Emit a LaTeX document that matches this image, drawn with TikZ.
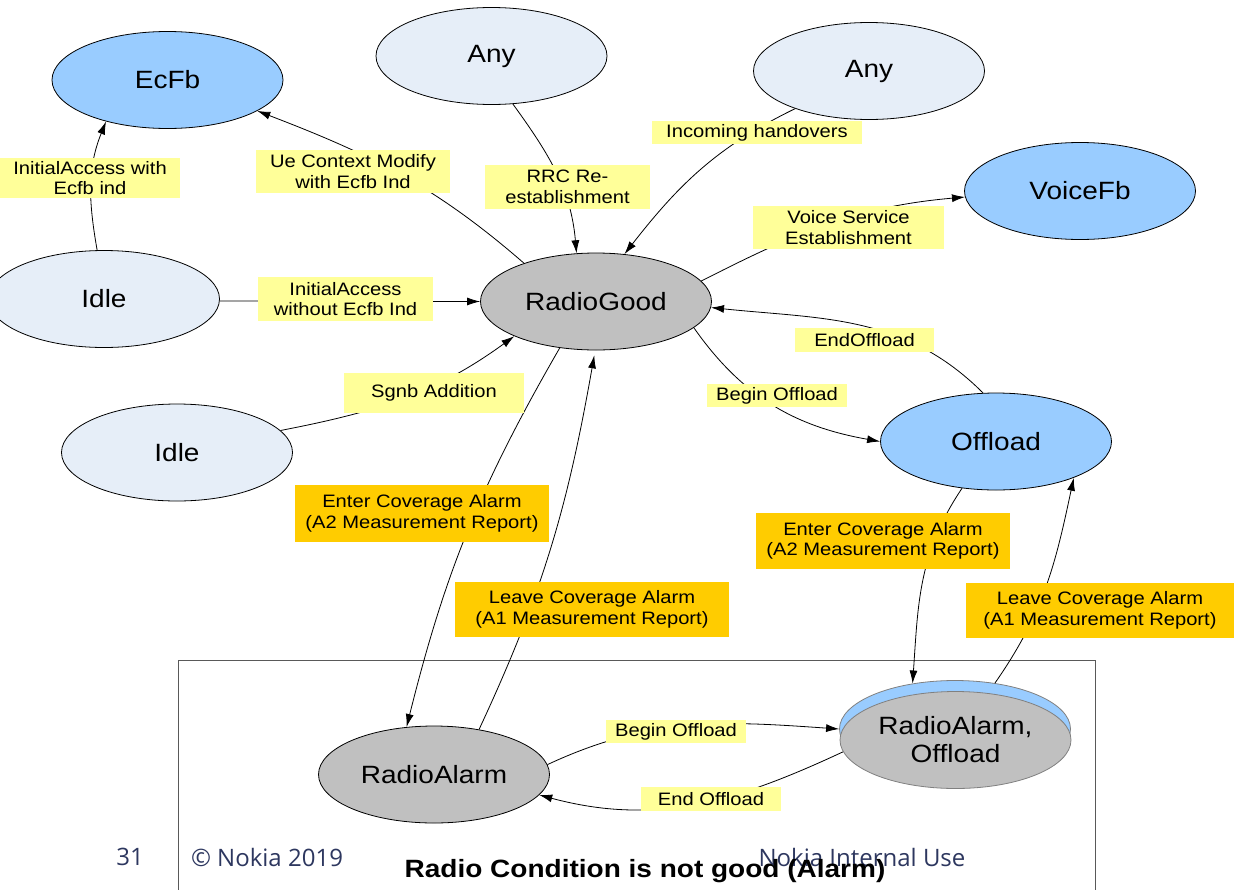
\documentclass[tikz,border=0pt]{standalone}
\usepackage{fontspec}
\setmainfont{Liberation Sans}[FakeStretch=1.12]
\newfontfamily\footfont{Open Sans}
\usetikzlibrary{shapes.geometric,arrows.meta}
\definecolor{paleblue}{RGB}{230,238,248}
\definecolor{skyblue}{RGB}{153,204,255}
\definecolor{stategray}{RGB}{192,192,192}
\definecolor{noteyellow}{RGB}{255,255,153}
\definecolor{alarmorange}{RGB}{255,204,0}
\definecolor{footblue}{RGB}{45,55,95}
\begin{document}
\begin{tikzpicture}[x=1pt,y=-1pt,
  state/.style={ellipse, draw=black, line width=0.8pt, minimum width=231pt,
    minimum height=97pt, inner sep=0pt, font=\fontsize{25}{28}\selectfont, align=center},
  idle/.style={state, fill=paleblue},
  fb/.style={state, fill=skyblue},
  good/.style={state, fill=stategray},
  note/.style={fill=noteyellow, inner sep=0pt, font=\fontsize{18}{20.5}\selectfont, align=center},
  alarmnote/.style={note, fill=alarmorange},
  trans/.style={-{Latex[length=13pt,width=8pt]}, line width=0.8pt},
  foot/.style={font=\footfont\fontsize{24}{28}\selectfont, text=footblue, inner sep=0pt},
]
\useasboundingbox (0,0) rectangle (1234,889);

% frame of the alarm region
\draw[draw=black!65, line width=1pt] (178,660) rectangle (1095,900);

% states
\node[fb]   (ecfb)    at (167.5,80)  {EcFb};
\node[idle] (anyA)    at (491.5,56)  {Any};
\node[idle] (anyB)    at (869,71)    {Any};
\node[fb]   (voice)   at (1080,191)  {VoiceFb};
\node[idle] (idleA)   at (104,299)   {Idle};
\node[good] (good)    at (596,301.5) {RadioGood};
\node[idle] (idleB)   at (177,452.5) {Idle};
\node[fb]   (offload) at (996,441.5) {Offload};
\node[good] (alarm)   at (434,774.5) {RadioAlarm};
\node[fb, draw=black!50]   (comboback) at (955,729) {};
\node[good, draw=black!50] (combo)     at (955.5,740) {RadioAlarm,\\Offload};

% transitions
\draw[trans] (idleA.98) to[out=100,in=248] (ecfb.214);
\draw[trans] (good.152) to[out=139,in=-21] (ecfb.-19);
\draw[trans] (anyA.-66) to[out=-54,in=95] (good.112);
\draw[trans] (anyB.207) to[out=206,in=52] (good.59);
\draw[trans] (good.11) to[out=27,in=185] (voice.183);
\draw[trans] (idleA.-1.5) -- (good.180);
\draw[trans] (idleB.12.7) to[out=11,in=216] (good.203);
\draw[trans] (offload.105) to[out=135,in=-6] (good.-3);
\draw[trans] (good.-15) to[out=-55,in=170] (offload.180);
\draw[trans] (good.232) to[out=240,in=76] (alarm.120);
\draw[trans, shorten >=5pt] (alarm.45) to[out=65,in=260] (good.-91);
\draw[trans] (offload.234.6) to[out=236,in=86] (comboback.133);
\draw[trans] (comboback.49) to[out=55,in=258] (offload.-25.4);
\draw[trans] (alarm.5) to[out=25,in=176] (comboback.180);
\draw[trans] (combo.186.5) to[out=205,in=-15] (alarm.-11);

% transition labels
\node[note, minimum width=180pt, minimum height=40pt] (lInitEc) at (90,178) {InitialAccess with\\Ecfb ind};
\node[note, minimum width=194pt, minimum height=43pt] (lUeCtx) at (353,171.5) {Ue Context Modify\\with Ecfb Ind};
\node[note, minimum width=165pt, minimum height=44pt] (lRrc) at (567.5,187) {RRC Re-\\establishment};
\node[note, minimum width=210pt, minimum height=23pt] (lHo) at (757,132.5) {Incoming handovers};
\node[note, minimum width=191pt, minimum height=43pt] (lVoice) at (848.5,227.5) {Voice Service\\Establishment};
\node[note, minimum width=175pt, minimum height=44pt] (lInit) at (345.5,299) {InitialAccess\\without Ecfb Ind};
\node[note, minimum width=180pt, minimum height=40pt] (lSgnb) at (434,393) {Sgnb Addition};
\node[note, minimum width=139pt, minimum height=24pt] (lEndOff) at (864.5,340) {EndOffload};
\node[note, minimum width=140pt, minimum height=23pt] (lBeginOff) at (777,395.5) {Begin Offload};
\node[alarmnote, minimum width=254pt, minimum height=57pt] (lEnterA) at (422,513.5) {Enter Coverage Alarm\\(A2 Measurement Report)};
\node[alarmnote, minimum width=274pt, minimum height=55pt] (lLeaveA) at (592,609.5) {Leave Coverage Alarm\\(A1 Measurement Report)};
\node[alarmnote, minimum width=254pt, minimum height=56pt] (lEnterB) at (883,541) {Enter Coverage Alarm\\(A2 Measurement Report)};
\node[alarmnote, minimum width=268pt, minimum height=55pt] (lLeaveB) at (1100,610.5) {Leave Coverage Alarm\\(A1 Measurement Report)};
\node[note, minimum width=140pt, minimum height=23pt] (lBeginOff2) at (676,731.5) {Begin Offload};
\node[note, minimum width=140pt, minimum height=24pt] (lEndOff2) at (711,799) {End Offload};

% footer and caption
\node[foot] (pageno) at (130,857) {31};
\node[foot] (copy) at (267,857) {\textcopyright{} Nokia 2019};
\node[foot] (usage) at (862,857) {Nokia Internal Use};
\node[font=\bfseries\fontsize{25}{28}\selectfont, inner sep=0pt] (caption) at (645,871) {Radio Condition is not good (Alarm)};
\end{tikzpicture}
\end{document}
